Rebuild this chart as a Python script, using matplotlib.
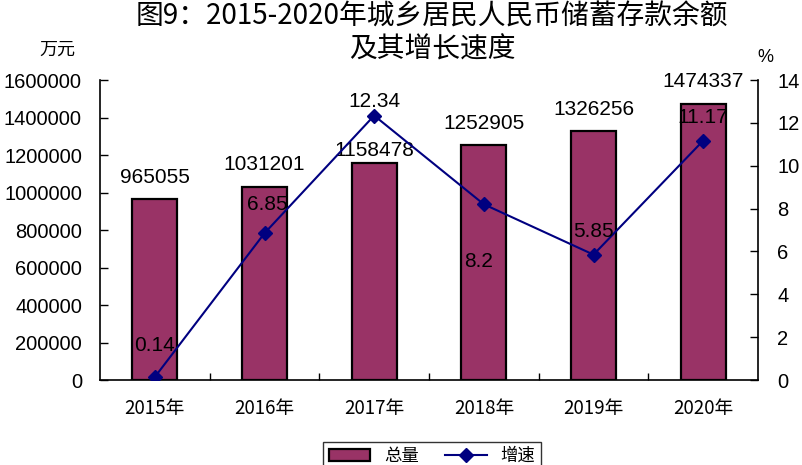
import matplotlib
matplotlib.use('Agg')
import matplotlib.pyplot as plt
import numpy as np
from matplotlib.lines import Line2D
from matplotlib.patches import Patch

plt.rcParams['font.family'] = ['Liberation Sans', 'Noto Sans CJK SC', 'DejaVu Sans']

#----------------------------------------------------------------------------

years = ['2015年', '2016年', '2017年', '2018年', '2019年', '2020年']
totals = [965055, 1031201, 1158478, 1252905, 1326256, 1474337]
growth = [0.14, 6.85, 12.34, 8.2, 5.85, 11.17]
growth_labels = ['0.14', '6.85', '12.34', '8.2', '5.85', '11.17']

BAR_COLOR = '#993366'
LINE_COLOR = '#000080'
CJK = ['Noto Sans CJK SC', 'DejaVu Sans']

#----------------------------------------------------------------------------

W, H = 802, 465
fig = plt.figure(figsize=(W / 100, H / 100), dpi=100)
ax = fig.add_axes([100 / W, 1 - 380 / H, 658 / W, 300 / H])
ax2 = ax.twinx()

x = np.arange(len(years))
ax.bar(x, totals, width=0.41, color=BAR_COLOR, edgecolor='black', linewidth=1.6, zorder=2)
ax.set_xlim(-0.5, len(years) - 0.5)
ax.set_ylim(0, 1600000)
ax.set_yticks(np.arange(0, 1600001, 200000))
ax.set_yticklabels([str(v) for v in range(0, 1600001, 200000)], fontsize=14.5)

# category ticks sit on the borders between groups
ax.set_xticks(x)
ax.set_xticklabels(years, fontsize=13.5, family=CJK)
ax.set_xticks(np.arange(0.5, len(years) - 1, 1), minor=True)
ax.tick_params(axis='x', which='major', length=0, pad=13)
ax.tick_params(axis='x', which='minor', direction='in', length=5, width=1)
ax.tick_params(axis='y', direction='in', length=6, width=1, pad=13)

# bar value labels, offsets in points
bar_offsets = [9, 9, 2, 9, 9, 9]
for xi, v, dy in zip(x, totals, bar_offsets):
    ax.annotate(str(v), (xi, v), xytext=(0, dy), textcoords='offset points',
                ha='center', va='bottom', fontsize=15)

ax2.plot(x, growth, color=LINE_COLOR, linewidth=1.5, marker='D', markersize=7, zorder=3)
ax2.set_ylim(0, 14)
ax2.set_yticks(np.arange(0, 15, 2))
ax2.tick_params(axis='y', direction='in', length=6, width=1, pad=14, labelsize=14.5)

# growth labels: offsets in points (above, except 2018 below)
offsets = [(0, 16), (2, 14), (0, 3), (-4, -48), (0, 10), (0, 10)]
for xi, g, lab, (dx, dy) in zip(x, growth, growth_labels, offsets):
    ax2.annotate(lab, (xi, g), xytext=(dx, dy), textcoords='offset points',
                 ha='center', va='bottom', fontsize=15)

for a in (ax, ax2):
    a.spines['top'].set_visible(False)
    for s in a.spines.values():
        s.set_linewidth(1.2)
ax.spines['right'].set_visible(False)
ax2.spines['left'].set_visible(False)
ax2.spines['bottom'].set_visible(False)

fig.text(432 / W, 1 - 17 / H, '图9：2015-2020年城乡居民人民币储蓄存款余额',
         ha='center', va='center', fontsize=20, family=CJK, fontweight='light')
fig.text(432 / W, 1 - 50 / H, '及其增长速度', ha='center', va='center', fontsize=20,
         family=CJK, fontweight='light')
fig.text(57 / W, 1 - 50 / H, '万元', ha='center', va='center', fontsize=13, family=CJK)
fig.text(765 / W, 1 - 57 / H, '%', ha='center', va='center', fontsize=13)

handles = [Patch(facecolor=BAR_COLOR, edgecolor='black', linewidth=1.6),
           Line2D([0], [0], color=LINE_COLOR, linewidth=1.5, marker='D', markersize=7)]
leg = fig.legend(handles, ['总量', '增速'], loc='upper center', bbox_to_anchor=(432 / W, 1 - 442 / H),
                 ncol=2, frameon=True, fancybox=False, prop={'family': CJK, 'size': 12.5},
                 handlelength=2.4, columnspacing=1.5, borderpad=0.3, borderaxespad=0)
leg.get_frame().set_edgecolor('black')
leg.get_frame().set_linewidth(1.0)

fig.savefig('out.png', dpi=100)
